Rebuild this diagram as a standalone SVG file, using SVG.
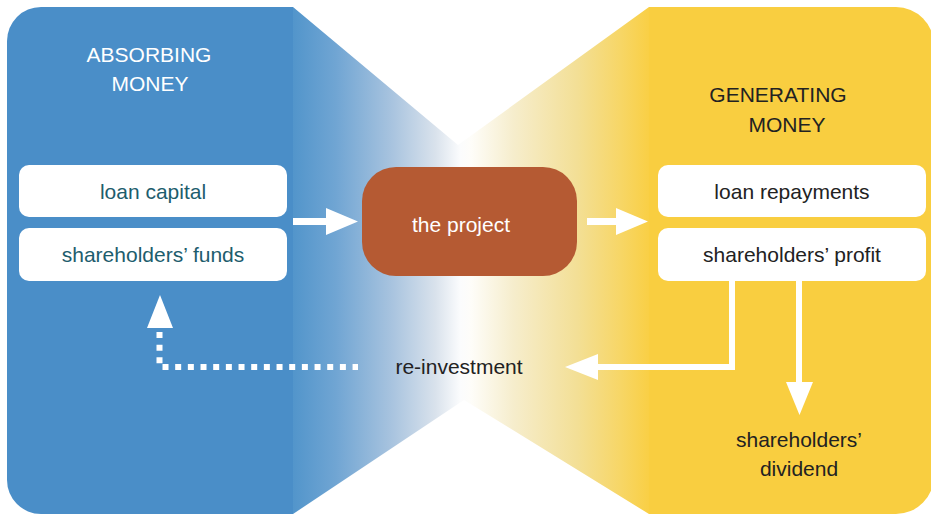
<svg xmlns="http://www.w3.org/2000/svg" width="931" height="514" viewBox="0 0 931 514">
<defs>
<linearGradient id="flow" gradientUnits="userSpaceOnUse" x1="293" y1="0" x2="649" y2="0">
<stop offset="0" stop-color="#5295cb"/>
<stop offset="0.12" stop-color="#70a5d3"/>
<stop offset="0.28" stop-color="#a9c4df"/>
<stop offset="0.40" stop-color="#d9e2ec"/>
<stop offset="0.47" stop-color="#fbfcfd"/>
<stop offset="0.50" stop-color="#fefdf9"/>
<stop offset="0.62" stop-color="#f6edcc"/>
<stop offset="0.80" stop-color="#f3df95"/>
<stop offset="0.92" stop-color="#f7d666"/>
<stop offset="1" stop-color="#f9cf45"/>
</linearGradient>
<style>
.panelL{fill:#4a8ec8}
.panelR{fill:#f9ce40}
.box{fill:#ffffff}
.t{font-family:"Liberation Sans",Arial,sans-serif;font-size:21px;text-anchor:middle}
.teal{fill:#1d5d6d}
.dark{fill:#222222}
.wht{fill:#ffffff}
.arrow{fill:#ffffff}
.line{fill:none;stroke:#ffffff;stroke-width:6}
.dots{fill:none;stroke:#ffffff;stroke-width:6;stroke-dasharray:6 6.67}
</style>
</defs>

<g id="background">
<path class="panelL" d="M293,7 H41 A34,34 0 0 0 7,41 V480 A34,34 0 0 0 41,514 H293 Z"/>
<path class="panelR" d="M649,7 H896 A38,38 0 0 1 934,45 V476 A38,38 0 0 1 896,514 H649 Z"/>
<polygon points="293,7 458,145 649,7 649,514 464,400 293,514" fill="url(#flow)"/>
</g>

<g id="absorbing">
<text class="t wht" x="149" y="62">ABSORBING</text>
<text class="t wht" x="150" y="91">MONEY</text>
</g>

<g id="generating">
<text class="t dark" x="778" y="102">GENERATING</text>
<text class="t dark" x="787" y="132">MONEY</text>
</g>

<g id="loan-capital">
<rect class="box" x="19" y="165" width="268" height="52" rx="10"/>
<text class="t teal" x="153" y="199">loan capital</text>
</g>

<g id="shareholders-funds">
<rect class="box" x="19" y="228" width="268" height="53" rx="10"/>
<text class="t teal" x="153" y="262">shareholders’ funds</text>
</g>

<g id="project">
<rect x="362" y="167" width="215" height="109" rx="34" fill="#b55a33"/>
<text class="t wht" x="461" y="232">the project</text>
</g>

<g id="loan-repayments">
<rect class="box" x="658" y="165" width="268" height="52" rx="10"/>
<text class="t dark" x="792" y="199">loan repayments</text>
</g>

<g id="shareholders-profit">
<rect class="box" x="658" y="228" width="268" height="53" rx="10"/>
<text class="t dark" x="792" y="262">shareholders’ profit</text>
</g>

<g id="reinvestment">
<text class="t dark" x="459" y="374">re-investment</text>
</g>

<g id="dividend">
<text class="t dark" x="799" y="447">shareholders’</text>
<text class="t dark" x="799" y="476">dividend</text>
</g>

<g id="connectors">
<polygon class="arrow" points="293,218 326,218 326,208 358,221.5 326,235 326,225 293,225"/>
<polygon class="arrow" points="587,218 616,218 616,208 648,221.5 616,235 616,225 587,225"/>
<path class="line" d="M732,281 V367 H597"/>
<polygon class="arrow" points="598,354 565,367 598,380"/>
<path class="line" d="M799,281 V383"/>
<polygon class="arrow" points="786,382 813,382 799.5,415"/>
<path class="dots" d="M159.5,332 V367 H358"/>
<polygon class="arrow" points="147,328 173,328 160,295"/>
</g>
</svg>
